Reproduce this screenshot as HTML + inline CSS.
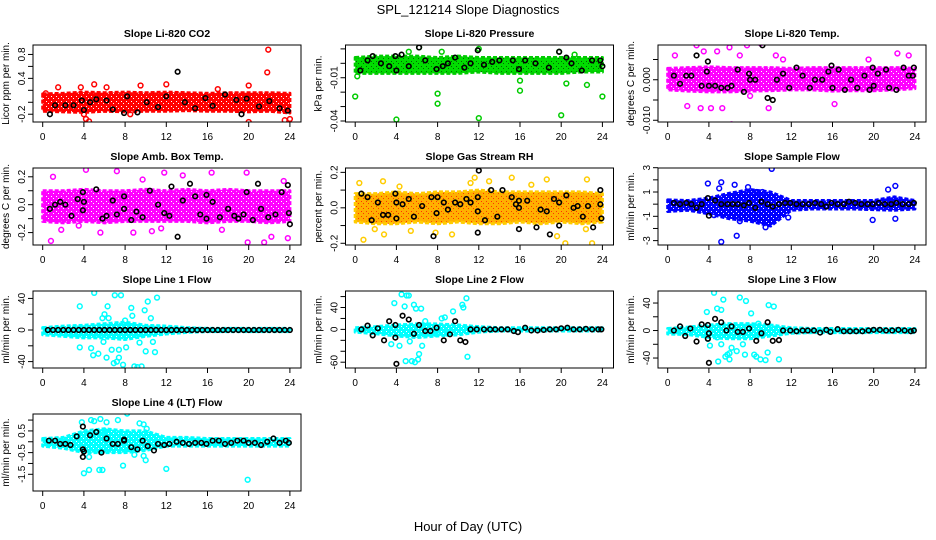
<!DOCTYPE html>
<html><head><meta charset="utf-8">
<style>
html,body{margin:0;padding:0;background:#fff;}
svg{display:block;font-family:"Liberation Sans",sans-serif;}
</style></head>
<body>
<svg id="chart" width="936" height="540" viewBox="0 0 936 540" xmlns="http://www.w3.org/2000/svg">
<defs id="defs"></defs>
<text x="468" y="14" text-anchor="middle" font-size="13">SPL_121214  Slope Diagnostics</text>
<text x="468" y="531" text-anchor="middle" font-size="13">Hour of Day (UTC)</text>
</svg>
<script>
// shared band hours
const bandHours=[0,2,4,6,8,10,12,14,16,18,20,22,24];
const xTicks=[0,4,8,12,16,20,24];

// CO2
const co2BandLo=[-0.15,-0.16,-0.17,-0.15,-0.16,-0.15,-0.15,-0.14,-0.15,-0.15,-0.16,-0.15,-0.18];
const co2BandHi=[0.14,0.15,0.17,0.16,0.17,0.16,0.17,0.16,0.15,0.16,0.16,0.16,0.15];
const co2OutX=[0.3,1.5,3.7,4.0,4.2,4.5,5.0,6.2,8.5,9.5,12.0,17.0,20.0,20.0,21.8,21.9,23.5,24.0];
const co2OutY=[0.15,0.25,0.25,-0.2,-0.28,-0.32,0.3,0.25,-0.2,0.28,0.3,0.22,0.28,-0.33,0.5,0.88,-0.3,-0.28];
const co2BlkX=[0.7,1.2,2.2,3.0,3.8,4.0,4.6,5.2,6.2,6.8,7.9,8.2,9.2,10.1,11.2,12.0,13.1,13.8,14.8,15.8,16.5,17.7,18.8,19.3,19.8,21.0,22.0,23.0,23.8];
const co2BlkY=[-0.2,-0.05,-0.05,-0.05,0.03,-0.13,0.0,0.05,0.03,-0.12,-0.18,0.1,-0.17,0.0,-0.08,0.1,0.51,0.0,-0.1,0.07,-0.06,0.13,0.04,-0.2,0.06,-0.07,0.02,-0.1,-0.14];

// Pressure
const presBandLo=[-0.007,-0.007,-0.007,-0.007,-0.007,-0.007,-0.006,-0.007,-0.007,-0.007,-0.007,-0.006,-0.006];
const presBandHi=[0.004,0.005,0.005,0.005,0.004,0.005,0.004,0.004,0.004,0.004,0.004,0.004,0.004];
const presOutX=[0,0.2,4,8,8,12,16,16,20,20.5,22.5,24,5.2,6.2,8.4,12,19.8,21.3];
const presOutY=[-0.023,-0.009,-0.039,-0.021,-0.028,-0.038,-0.019,-0.012,-0.036,-0.014,-0.015,-0.023,0.008,0.011,0.008,0.010,0.008,0.006];
const presBlkX=[0.5,1.2,1.7,2.5,3.3,3.9,4.0,4.5,5.2,6.2,6.8,7.9,8.5,9.0,9.7,10.6,11.2,11.9,12.5,13.3,14.0,15.3,15.9,16.5,17.5,18.8,19.8,20.5,21.0,22.0,23.0,23.8,24.0];
const presBlkY=[-0.005,0.002,0.005,0,-0.002,0.005,-0.005,0.006,-0.002,0.011,0.002,-0.004,-0.002,0,0.004,-0.003,0,0.009,-0.001,0.001,0.002,0.002,-0.004,0.002,0,-0.003,0.008,0.004,0,-0.005,0.002,0.002,-0.002];

// Li-820 Temp
const tempBandLo=[-0.0025,-0.0028,-0.003,-0.003,-0.0028,-0.0027,-0.0025,-0.0025,-0.0028,-0.0027,-0.0027,-0.0025,-0.0022];
const tempBandHi=[0.0028,0.003,0.0032,0.003,0.003,0.003,0.0028,0.003,0.003,0.003,0.003,0.003,0.0028];
const tempOutX=[2.8,3.5,0.7,1.9,3.2,4.2,5.3,6.2,6.0,7.7,9.0,9.8,11.2,16.2,22.3,23.4,19.5,4.8,7.0,8.0,10.5];
const tempOutY=[0.0085,0.007,0.006,-0.0065,-0.007,-0.007,-0.007,-0.011,0.008,0.0085,0.009,-0.007,0.005,-0.006,0.0065,0.006,0.005,0.007,0.006,-0.004,0.006];
const tempBlkX=[0.6,1.2,1.8,2.3,2.8,3.3,3.8,3.9,4.0,4.6,5.2,5.8,6.2,6.8,7.4,7.9,8.0,8.5,9.2,9.7,10.2,10.6,11.2,11.8,12.5,13.1,13.8,14.3,15.0,15.6,15.9,16.0,16.6,17.2,17.8,18.4,19.1,19.6,19.9,20.0,20.4,21.2,21.5,22.2,22.9,23.4,23.8,23.9];
const tempBlkY=[0.001,-0.001,0.001,0.001,0.006,-0.0015,0.002,0.0045,-0.0015,-0.0015,-0.002,-0.002,-0.0015,0.0025,-0.003,0.0015,0,0,0.0085,-0.0045,-0.005,0,0.0015,-0.002,0.003,0.001,-0.002,0,0,0.002,0.0035,-0.002,0.0025,-0.0025,0,-0.002,0.001,-0.0025,0.003,-0.0015,0.0015,0.0025,-0.002,-0.0025,0.003,0.001,0.001,0.003];

// Amb Box Temp
const ambBandLo=[-0.12,-0.13,-0.12,-0.13,-0.12,-0.12,-0.12,-0.12,-0.13,-0.12,-0.12,-0.13,-0.12];
const ambBandHi=[0.1,0.1,0.11,0.1,0.1,0.11,0.1,0.11,0.1,0.11,0.1,0.1,0.1];
const ambOutX=[1,0.8,4.2,7.2,5.6,8.8,9.7,11.8,16.4,19.8,19.9,21.5,22.2,23.4,23.8,1.8,3.5,13.6,10.6,11.5,17.4];
const ambOutY=[0.2,-0.26,0.25,0.24,-0.2,-0.2,0.18,0.23,0.23,0.23,-0.27,-0.27,-0.23,0.17,-0.24,-0.18,-0.15,0.21,-0.19,-0.17,-0.18];
const ambBlkX=[0.7,1.2,1.7,2.2,2.8,3.4,3.9,3.9,4.0,5.2,5.8,6.2,6.8,7.2,7.9,7.9,8.6,9.1,9.7,10.4,11.2,11.8,12.3,12.5,13.1,13.6,14.3,14.8,15.3,15.9,15.9,16.5,17.2,18.0,18.6,19.0,19.5,19.8,20.4,20.9,21.2,21.9,22.6,23.2,23.8,23.9,24.0];
const ambBlkY=[-0.03,0.0,0.02,0.0,-0.08,0.04,0.09,-0.04,0.02,0.11,-0.1,-0.08,0.03,-0.07,0.06,-0.03,-0.11,-0.05,-0.09,0.1,0.0,-0.06,-0.08,0.13,-0.23,0.03,0.15,0.06,-0.07,0.07,-0.1,0.02,-0.09,-0.03,-0.08,-0.1,-0.07,0.09,-0.11,0.15,-0.03,-0.09,-0.07,0.09,0.14,-0.06,-0.14];

// Gas Stream RH
const rhBandLo=[-0.08,-0.09,-0.09,-0.08,-0.09,-0.08,-0.09,-0.09,-0.08,-0.09,-0.08,-0.09,-0.08];
const rhBandHi=[0.08,0.08,0.09,0.08,0.09,0.09,0.1,0.09,0.09,0.09,0.09,0.09,0.08];
const rhOutX=[0.4,0.8,1.9,2.7,2.8,4.3,5.4,7.8,9.4,11.6,11.2,13,15.2,17.1,18.6,19.6,20.4,22.5,23,22.4];
const rhOutY=[0.14,-0.18,-0.12,0.15,-0.15,0.12,-0.13,-0.14,-0.15,0.17,0.14,0.15,0.17,0.13,0.16,-0.16,-0.2,0.16,-0.2,-0.12];
const rhBlkX=[0.6,1.2,1.6,2.2,2.7,3.2,3.9,4.0,4.0,4.6,5.2,5.7,6.5,7.4,7.6,7.9,8.0,8.6,9.0,9.7,10.2,10.8,11.2,11.9,11.9,11.9,12.0,12.6,13.2,13.8,14.3,15.2,15.6,15.9,15.9,15.9,16.7,17.6,18.0,18.6,18.9,19.3,19.8,19.8,20.5,21.2,21.6,22.1,22.6,23.1,23.8,23.8,23.9];
const rhBlkY=[0.08,0.06,-0.07,0.03,-0.04,-0.04,0.08,0.03,-0.06,0.02,0.05,-0.05,0.01,0.06,-0.16,-0.03,0.06,0.03,-0.01,0.03,0.02,0.05,0.03,0.06,-0.02,-0.14,0.21,-0.07,0.1,-0.05,0.1,0.06,0.02,0.04,0.0,-0.12,0.04,-0.11,-0.01,-0.02,-0.15,0.05,-0.1,0.03,0.07,0.0,0.01,-0.05,0.01,-0.11,0.1,0.02,-0.06];

// Sample Flow
const sfBandLo=[-0.6,-0.5,-0.8,-1.2,-1.4,-1.8,-0.5,-0.4,-0.4,-0.4,-0.45,-0.5,-0.4];
const sfBandHi=[0.35,0.3,0.5,0.9,1.2,1.0,0.3,0.3,0.3,0.3,0.3,0.6,0.3];
const sfOutX=[3.9,5.0,5.2,6.5,7.8,10.1,5.2,6.7,9.5,7.0,11.7,19.9,21.4,22.1,22.1,4.5,8.6,9.2];
const sfOutY=[1.7,1.3,1.8,1.6,1.4,2.9,-3.1,-2.6,-1.9,-1.4,-1.1,-1.3,1.2,1.5,-1.2,-0.9,1.0,1.0];
const sfBlkX=[0.6,1.2,1.8,2.3,2.8,3.3,3.9,4.0,4.6,5.2,5.8,6.3,6.8,7.4,7.9,8.5,9.1,9.7,10.2,10.8,11.4,11.9,12.5,13.1,13.7,14.3,14.9,15.4,15.9,16.5,17.1,17.6,18.2,18.8,19.4,19.9,20.5,21.1,21.7,22.2,22.8,23.4,23.9];
const sfBlkY=[0.1,0.0,0.1,0.0,-0.3,0.0,0.5,-0.95,0.3,0.0,0.0,0.0,0.0,-0.1,0.1,-0.3,0.2,0.0,-0.2,0.0,0.1,0.1,0.0,0.0,0.0,0.1,0.0,-0.2,0.1,0.0,0.0,0.2,0.1,0.0,0.0,0.0,0.1,0.0,0.0,0.1,0.0,0.0,0.1];

// Line 1 Flow
const l1BandLo=[-6,-8,-10,-10,-12,-8,-5,-3,-2,-2,-2,-2,-2];
const l1BandHi=[3,5,6,8,10,6,5,3,2,2,2,2,2];
const l1OutX=[3.6,3.6,4.7,5.0,4.9,5.4,5.8,6.0,6.3,6.4,6.7,6.9,7.0,7.2,7.6,7.4,7.8,8.1,8.0,8.6,8.7,8.9,9.2,9.6,9.9,10.0,10.2,10.5,10.7,10.9,11.1,9.4,6.2,7.4,5.9];
const l1OutY=[30,-22,-23,47,-32,-30,15,20,30,15,-25,-42,44,-40,44,-25,-44,-22,12,28,18,-46,-47,-46,25,-27,36,15,-15,-28,41,-16,-35,-35,-15];
const l1BlkX=[0.5,1.0,1.5,2.0,2.5,3.0,3.5,4.0,4.5,5.0,5.5,6.0,6.5,7.0,7.5,8.0,8.5,9.0,9.5,10.0,10.5,11.0,11.5,12.0,12.5,13.0,13.5,14.0,14.5,15.0,15.5,16.0,16.5,17.0,17.5,18.0,18.5,19.0,19.5,20.0,20.5,21.0,21.5,22.0,22.5,23.0,23.5,24.0];
const l1BlkY=[0,0,0,0,0,0,0,0,0,0,0,0,0,0,0,0,0,0,0,0,0,0,0,0,0,0,0,0,0,0,0,0,0,0,0,0,0,0,0,0,0,0,0,0,0,0,0,0];

// Line 2 Flow
const l2BandLo=[-5,-8,-12,-15,-12,-10,-5,-3,-3,-3,-3,-3,-3];
const l2BandHi=[3,5,8,10,10,8,5,3,3,3,3,3,3];
const l2OutX=[3.8,3.5,4.3,4.5,4.8,5.0,5.2,4.9,5.3,5.5,5.7,5.9,6.1,6.2,6.4,6.5,6.8,5.8,8.4,8.7,9.5,10.4,10.5,10.8,10.9,7.8,9.0];
const l2OutY=[48,-27,-30,64,42,62,62,-58,-22,-58,45,38,-55,-45,38,-30,15,-60,20,22,33,45,40,57,-50,-8,-8];
const l2BlkX=[0.6,1.2,1.7,2.2,2.8,3.3,3.9,3.9,4.0,4.6,5.2,5.7,6.2,6.8,7.3,7.9,8.6,9.2,9.7,10.2,10.7,11.2,11.8,12.5,13.1,13.6,14.2,14.8,15.4,15.8,16.5,17.1,17.7,18.3,18.9,19.5,20.0,20.6,21.2,21.8,22.4,23.0,23.6,23.9];
const l2BlkY=[0,7,-11,2,-20,15,8,-15,-63,25,18,-8,8,-3,-3,3,-20,-9,15,-20,-23,0,0,0,0,0,0,0,-3,-5,3,-2,-2,-1,0,0,2,3,0,0,1,0,0,0];

// Line 3 Flow
const l3BandLo=[-5,-6,-10,-12,-12,-8,-4,-3,-3,-3,-3,-3,-3];
const l3BandHi=[3,5,8,10,10,8,4,3,3,3,3,3,3];
const l3OutX=[3.8,4.5,4.8,5.2,5.4,4.1,4.9,5.2,5.6,5.8,6.0,6.2,6.7,7.0,7.3,7.6,7.5,8.1,8.4,8.6,9.0,9.5,9.8,10.3,10.8,9.7,8.8,4.8,3.9,6.0];
const l3OutY=[27,55,32,30,45,-22,-45,-20,-38,-35,-33,-25,-30,48,-20,43,-35,25,-35,-38,-42,-43,37,35,-42,-32,10,-10,-12,-42];
const l3BlkX=[0.6,1.2,1.7,2.2,2.8,3.3,3.9,3.9,4.0,4.0,4.6,5.2,5.7,6.2,6.8,7.3,7.9,8.6,9.1,9.7,10.2,10.8,11.2,11.9,12.5,13.1,13.6,14.2,14.8,15.4,15.8,16.5,17.1,17.7,18.3,18.9,19.5,20.0,20.6,21.2,21.8,22.4,23.0,23.6,23.9];
const l3BlkY=[0,6,-8,3,-16,9,8,-12,-4,-47,17,12,0,6,-2,-2,3,-15,-4,12,-15,-14,0,0,-1,0,0,0,-3,1,-2,2,-1,-1,-1,-1,0,1,1,0,0,1,0,-1,0];

// Line 4 (LT) Flow
const l4BandLo=[-0.2,-0.3,-0.5,-0.5,-0.5,-0.4,-0.2,-0.2,-0.2,-0.2,-0.2,-0.2,-0.2];
const l4BandHi=[0.15,0.2,0.5,0.6,0.5,0.5,0.2,0.2,0.15,0.15,0.15,0.15,0.15];
const l4OutX=[4.7,5.0,5.6,6.2,7.3,8.2,9.4,9.8,10.1,3.8,4.0,4.5,5.5,5.8,7.8,10.0,12.0,19.9,6.0,9.8,4.5,8.9];
const l4OutY=[1.0,0.95,1.05,0.9,1.0,1.3,0.85,0.8,0.6,0.9,-1.45,-1.3,-1.3,-1.3,-1.1,-0.85,-1.25,-1.75,0.5,-0.65,-0.7,-0.6];
const l4BlkX=[0.6,1.2,1.7,2.2,2.7,3.3,3.9,3.9,4.0,3.9,4.6,5.2,5.7,6.2,6.8,7.3,7.9,7.9,8.6,9.2,9.7,10.2,10.8,11.2,11.8,12.3,13.0,13.6,14.2,14.8,15.4,15.9,16.5,17.1,17.7,18.3,18.9,19.5,20.0,20.6,21.2,21.8,22.4,23.0,23.6,23.9];
const l4BlkY=[0.05,0.05,-0.1,-0.1,-0.15,0.25,0.7,-0.35,-0.45,-0.7,0.3,0.45,-0.5,0.15,-0.1,-0.1,0.05,0.1,-0.25,-0.35,0.05,-0.2,-0.4,-0.1,-0.15,-0.1,0.0,-0.05,-0.1,-0.05,-0.05,-0.1,0.05,0.05,-0.1,-0.05,0.05,0.05,-0.05,-0.05,-0.15,0.0,0.15,-0.05,0.05,-0.05];

const svg=document.getElementById('chart');
const defs=document.getElementById('defs');
const NS='http://www.w3.org/2000/svg';
function mk(tag,attrs){const e=document.createElementNS(NS,tag);for(const k in attrs)e.setAttribute(k,attrs[k]);return e;}

const colLeft=[33,345.5,658], rowTop=[45,168,291,414], W=268, H=77;

const panels=[
 {key:'co2',title:'Slope Li-820 CO2',ylab:'Licor ppm per min.',r:0,c:0,lo:-0.33,hi:0.958,ticks:[-0.2,0,0.2,0.4,0.6,0.8],labs:['-0.2','','','0.4','','0.8'],col:'#ff0000',stroke:'#ff0000',dot:'#ffffff',bl:co2BandLo,bh:co2BandHi,ox:co2OutX,oy:co2OutY,kx:co2BlkX,ky:co2BlkY},
 {key:'pressure',title:'Slope Li-820 Pressure',ylab:'kPa per min.',r:0,c:1,lo:-0.0407,hi:0.0127,ticks:[-0.04,-0.03,-0.02,-0.01,0,0.01],labs:['-0.04','','','-0.01','',''],col:'#00dd00',stroke:'#00cc00',dot:'#006600',bl:presBandLo,bh:presBandHi,ox:presOutX,oy:presOutY,kx:presBlkX,ky:presBlkY},
 {key:'li820-temp',title:'Slope Li-820 Temp.',ylab:'degrees C per min.',r:0,c:2,lo:-0.01043,hi:0.00858,ticks:[-0.01,-0.005,0,0.005],labs:['-0.010','','0.000',''],col:'#ff00ff',stroke:'#ff00ff',dot:'#ffffff',bl:tempBandLo,bh:tempBandHi,ox:tempOutX,oy:tempOutY,kx:tempBlkX,ky:tempBlkY},
 {key:'amb-box-temp',title:'Slope Amb. Box Temp.',ylab:'degrees C per min.',r:1,c:0,lo:-0.289,hi:0.263,ticks:[-0.2,-0.1,0,0.1,0.2],labs:['-0.2','','0.0','','0.2'],col:'#ff00ff',stroke:'#ff00ff',dot:'#ffffff',bl:ambBandLo,bh:ambBandHi,ox:ambOutX,oy:ambOutY,kx:ambBlkX,ky:ambBlkY},
 {key:'gas-stream-rh',title:'Slope Gas Stream RH',ylab:'percent per min.',r:1,c:1,lo:-0.2097,hi:0.2246,ticks:[-0.2,-0.1,0,0.1,0.2],labs:['-0.2','','0.0','','0.2'],col:'#ffb000',stroke:'#ffcc00',dot:'#ff3300',bl:rhBandLo,bh:rhBandHi,ox:rhOutX,oy:rhOutY,kx:rhBlkX,ky:rhBlkY},
 {key:'sample-flow',title:'Slope Sample Flow',ylab:'ml/min per min.',r:1,c:2,lo:-3.36,hi:2.975,ticks:[-3,-2,-1,0,1,2,3],labs:['-3','','-1','','1','','3'],col:'#0000ff',stroke:'#0000ff',dot:'#ffffff',bl:sfBandLo,bh:sfBandHi,ox:sfOutX,oy:sfOutY,kx:sfBlkX,ky:sfBlkY},
 {key:'line1-flow',title:'Slope Line 1 Flow',ylab:'ml/min per min.',r:2,c:0,lo:-48.1,hi:49.4,ticks:[-40,-20,0,20,40],labs:['-40','','0','','40'],col:'#00ffff',stroke:'#00ffff',dot:'#ffffff',bl:l1BandLo,bh:l1BandHi,ox:l1OutX,oy:l1OutY,kx:l1BlkX,ky:l1BlkY},
 {key:'line2-flow',title:'Slope Line 2 Flow',ylab:'ml/min per min.',r:2,c:1,lo:-70.6,hi:70.2,ticks:[-60,-40,-20,0,20,40,60],labs:['-60','','','0','','40',''],col:'#00ffff',stroke:'#00ffff',dot:'#ffffff',bl:l2BandLo,bh:l2BandHi,ox:l2OutX,oy:l2OutY,kx:l2BlkX,ky:l2BlkY},
 {key:'line3-flow',title:'Slope Line 3 Flow',ylab:'ml/min per min.',r:2,c:2,lo:-54.5,hi:57.5,ticks:[-40,-20,0,20,40],labs:['-40','','0','','40'],col:'#00ffff',stroke:'#00ffff',dot:'#ffffff',bl:l3BandLo,bh:l3BandHi,ox:l3OutX,oy:l3OutY,kx:l3BlkX,ky:l3BlkY},
 {key:'line4-flow',title:'Slope Line 4 (LT) Flow',ylab:'ml/min per min.',r:3,c:0,lo:-2.27,hi:1.28,ticks:[-1.5,-1,-0.5,0,0.5,1],labs:['-1.5','','-0.5','','0.5',''],col:'#00ffff',stroke:'#00ffff',dot:'#ffffff',bl:l4BandLo,bh:l4BandHi,ox:l4OutX,oy:l4OutY,kx:l4BlkX,ky:l4BlkY}
];

panels.forEach(p=>{
  const L=colLeft[p.c], T=rowTop[p.r], B=T+H;
  const xs=h=>L+9.7+h*10.3;
  const ys=v=>B-(v-p.lo)/(p.hi-p.lo)*H;
  // speckle pattern
  const pat=mk('pattern',{id:'pat-'+p.key,width:5,height:5,patternUnits:'userSpaceOnUse'});
  pat.appendChild(mk('rect',{x:0,y:0,width:5,height:5,fill:p.col}));
  pat.appendChild(mk('rect',{x:1,y:1,width:1,height:1,fill:p.dot}));
  pat.appendChild(mk('rect',{x:3,y:3,width:1,height:1,fill:p.dot}));
  defs.appendChild(pat);
  const g=mk('g',{});
  
  
  svg.appendChild(g);
  const clip=mk('clipPath',{id:'clip-'+p.key});
  clip.appendChild(mk('rect',{x:L,y:T,width:W,height:H}));
  g.appendChild(clip);
  const t=mk('text',{x:L+W/2,y:T-8,'text-anchor':'middle','font-size':'10.5','font-weight':'bold'});
  
  
  t.textContent=p.title; g.appendChild(t);
  const plot=mk('g',{'clip-path':'url(#clip-'+p.key+')'});
  g.appendChild(plot);
  let pts=[];
  bandHours.forEach((h,i)=>pts.push(xs(h)+','+ys(p.bh[i])));
  for(let i=bandHours.length-1;i>=0;i--)pts.push(xs(bandHours[i])+','+ys(p.bl[i]));
  const band=mk('polygon',{points:pts.join(' '),fill:'url(#pat-'+p.key+')',stroke:p.stroke,'stroke-width':'3','stroke-dasharray':'4 2','stroke-linejoin':'round'});
  
  
  plot.appendChild(band);
  p.ox.forEach((x,i)=>{
    const c=mk('circle',{cx:xs(x),cy:ys(p.oy[i]),r:2.4,fill:'none',stroke:p.stroke,'stroke-width':'1.5'});
    
    
    plot.appendChild(c);
  });
  p.kx.forEach((x,i)=>{
    const c=mk('circle',{cx:xs(x),cy:ys(p.ky[i]),r:2.3,fill:'none',stroke:'#000','stroke-width':'1.6'});
    
    
    plot.appendChild(c);
  });
  const box=mk('rect',{x:L,y:T,width:W,height:H,fill:'none',stroke:'#000','stroke-width':'1'});
  
  
  g.appendChild(box);
  const xa=mk('g',{});
  
  
  g.appendChild(xa);
  xa.appendChild(mk('line',{x1:xs(0),x2:xs(24),y1:B,y2:B,stroke:'#000'}));
  xTicks.forEach(h=>{
    xa.appendChild(mk('line',{x1:xs(h),x2:xs(h),y1:B,y2:B+5,stroke:'#000'}));
    const tl=mk('text',{x:xs(h),y:B+18,'text-anchor':'middle','font-size':'10'});
    
    
    tl.textContent=h; xa.appendChild(tl);
  });
  const ya=mk('g',{});
  
  
  g.appendChild(ya);
  ya.appendChild(mk('line',{x1:L,x2:L,y1:ys(p.ticks[0]),y2:ys(p.ticks[p.ticks.length-1]),stroke:'#000'}));
  p.ticks.forEach((v,i)=>{
    ya.appendChild(mk('line',{x1:L-5,x2:L,y1:ys(v),y2:ys(v),stroke:'#000'}));
    if(p.labs[i]){
      const tl=mk('text',{x:L-8,y:ys(v),'text-anchor':'middle','font-size':'10',transform:'rotate(-90 '+(L-8)+' '+ys(v)+')'});
      
      
      tl.textContent=p.labs[i]; ya.appendChild(tl);
    }
  });
  const yl=mk('text',{x:L-24,y:T+H/2,'text-anchor':'middle','font-size':'10',transform:'rotate(-90 '+(L-24)+' '+(T+H/2)+')'});
  
  
  yl.textContent=p.ylab; g.appendChild(yl);
});
</script>
</body></html>
